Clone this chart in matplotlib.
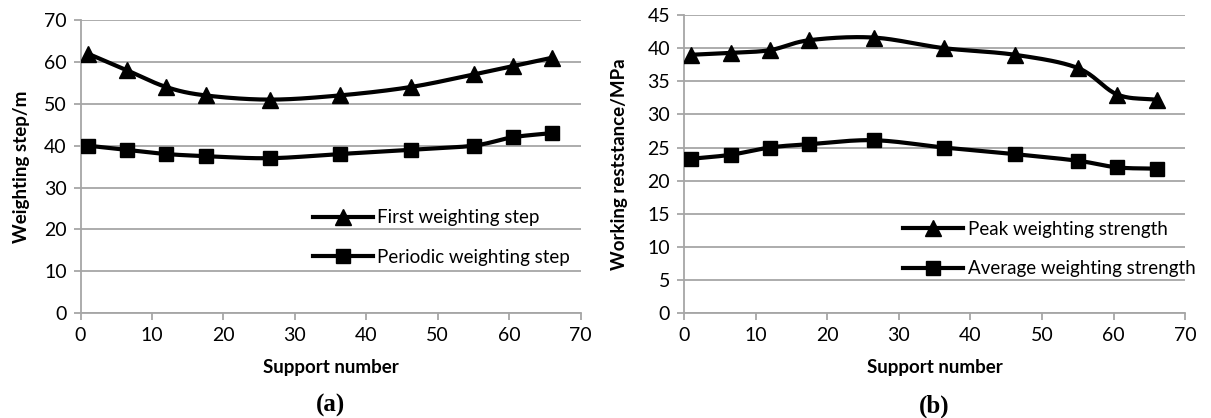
import numpy as np
import matplotlib.pyplot as plt
from matplotlib.lines import Line2D

# data
support = [1, 6.5, 12, 17.5, 26.5, 36.3, 46.2, 55, 60.5, 66]

first_step = [62, 58, 54, 52, 51, 52, 54, 57, 59, 61]
periodic_step = [40, 39, 38, 37.5, 37, 38, 39, 40, 42, 43]

peak_strength = [39, 39.3, 39.7, 41.2, 41.6, 40, 39, 37, 33, 32.2]
avg_strength = [23.3, 23.9, 25, 25.5, 26.1, 25, 24, 23, 22, 21.8]

plt.rcParams['font.family'] = ['Lato', 'DejaVu Sans']
GRAY = '#a6a6a6'


def smooth(x, y, n=20):
    # Catmull-Rom curve through the points, like Excel's smoothed line
    x = np.asarray(x, float)
    y = np.asarray(y, float)
    px = np.concatenate([[2 * x[0] - x[1]], x, [2 * x[-1] - x[-2]]])
    py = np.concatenate([[2 * y[0] - y[1]], y, [2 * y[-1] - y[-2]]])
    xs, ys = [], []
    t = np.linspace(0, 1, n, endpoint=False)
    for i in range(1, len(px) - 2):
        for p, out in ((px, xs), (py, ys)):
            p0, p1, p2, p3 = p[i - 1], p[i], p[i + 1], p[i + 2]
            out.extend(0.5 * (2 * p1 + (-p0 + p2) * t
                              + (2 * p0 - 5 * p1 + 4 * p2 - p3) * t ** 2
                              + (-p0 + 3 * p1 - 3 * p2 + p3) * t ** 3))
    xs.append(x[-1])
    ys.append(y[-1])
    return xs, ys


def draw_panel(ax, series, labels, ymax, ystep, ylabel, legend_pos, tag, ypad):
    for vals, mk in zip(series, ['^', 's']):
        sx, sy = smooth(support, vals)
        ax.plot(sx, sy, color='black', lw=3, zorder=3)
        ax.plot(support, vals, linestyle='none', marker=mk, color='black',
                markersize=11 if mk == '^' else 10, zorder=4)
    ax.set_xlim(0, 70)
    ax.set_ylim(0, ymax)
    ax.set_xticks(range(0, 71, 10))
    ax.set_yticks(np.arange(0, ymax + 0.1, ystep))
    ax.yaxis.grid(True, color=GRAY, lw=1.3)
    ax.set_axisbelow(True)
    for s in ['top', 'right']:
        ax.spines[s].set_visible(False)
    for s in ['left', 'bottom']:
        ax.spines[s].set_color(GRAY)
        ax.spines[s].set_linewidth(1.3)
    ax.tick_params(axis='both', colors=GRAY, length=5, width=1.3,
                   labelcolor='black', labelsize=14, pad=5)
    ax.set_xlabel('Support number', fontweight='bold', fontsize=13.5, labelpad=11)
    ax.set_ylabel(ylabel, fontweight='bold', fontsize=13.5, labelpad=ypad)
    handles = [Line2D([], [], color='black', lw=3, marker=m,
                      markersize=11 if m == '^' else 10) for m in ['^', 's']]
    ax.legend(handles, labels, loc='center left', bbox_to_anchor=legend_pos,
              frameon=False, fontsize=13.5, handlelength=3.2, handletextpad=0.25,
              labelspacing=1.2, borderpad=0, borderaxespad=0)
    ax.text(0.5, -0.314, tag, transform=ax.transAxes, ha='center', va='center',
            fontsize=18, fontweight='bold', family='Liberation Serif')


fig = plt.figure(figsize=(12.11, 4.18), dpi=100)
ax1 = fig.add_axes([0.0665, 0.251, 0.413, 0.701])
ax2 = fig.add_axes([0.5648, 0.251, 0.414, 0.713])

draw_panel(ax1, [first_step, periodic_step],
           ['First weighting step', 'Periodic weighting step'],
           70, 10, 'Weighting step/m', (0.464, 0.258), '(a)', 10)
draw_panel(ax2, [peak_strength, avg_strength],
           ['Peak weighting strength', 'Average weighting strength'],
           45, 5, 'Working reststance/MPa', (0.437, 0.215), '(b)', 14)

fig.savefig('out.png', dpi=100)
